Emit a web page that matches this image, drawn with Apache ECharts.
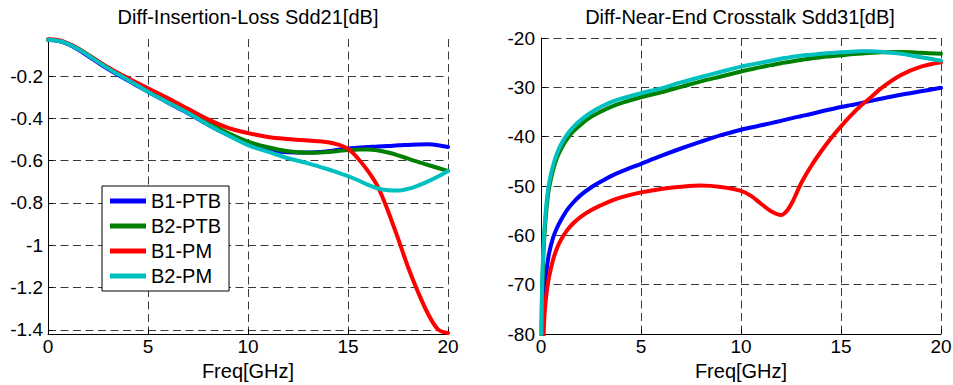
<!DOCTYPE html>
<html>
<head>
<meta charset="utf-8">
<script src="https://cdn.jsdelivr.net/npm/echarts@6/dist/echarts.min.js"></script>
<style>
html,body{margin:0;padding:0;background:#fff;}
#chart{width:953px;height:385px;}
</style>
</head>
<body>
<div id="chart"></div>
<script>
// ---------- data ----------
const seriesNames = ['B1-PTB', 'B2-PTB', 'B1-PM', 'B2-PM'];
const seriesColors = ['#0000ff', '#008000', '#ff0000', '#00bfbf'];

const titleIL = 'Diff-Insertion-Loss Sdd21[dB]';
const titleNEXT = 'Diff-Near-End Crosstalk Sdd31[dB]';
const xAxisName = 'Freq[GHz]';

const freqTicks = [0, 5, 10, 15, 20];
const ilTicks = [-1.4, -1.2, -1, -0.8, -0.6, -0.4, -0.2];
const nextTicks = [-80, -70, -60, -50, -40, -30, -20];

// Insertion loss Sdd21 [dB]
const freqIL = [0, 0.5, 1, 1.5, 2, 2.5, 3, 3.5, 4, 4.5, 5, 6, 7, 8, 9, 10, 11, 12, 13, 14, 14.5, 15, 15.5, 16, 16.5, 17, 17.5, 18, 18.5, 19, 19.5, 20];
const il_B1PTB = [-0.028, -0.034, -0.05, -0.075, -0.106, -0.137, -0.167, -0.195, -0.221, -0.248, -0.275, -0.326, -0.376, -0.43, -0.479, -0.522, -0.548, -0.561, -0.562, -0.556, -0.549, -0.543, -0.539, -0.536, -0.533, -0.531, -0.528, -0.526, -0.524, -0.523, -0.527, -0.536];
const il_B2PTB = [-0.028, -0.032, -0.047, -0.07, -0.099, -0.13, -0.16, -0.187, -0.213, -0.241, -0.27, -0.32, -0.37, -0.42, -0.47, -0.51, -0.537, -0.556, -0.563, -0.559, -0.555, -0.55, -0.548, -0.547, -0.552, -0.562, -0.575, -0.591, -0.606, -0.621, -0.635, -0.649];
const il_B1PM = [-0.026, -0.03, -0.046, -0.07, -0.1, -0.13, -0.16, -0.186, -0.21, -0.234, -0.258, -0.305, -0.355, -0.405, -0.445, -0.47, -0.488, -0.498, -0.505, -0.513, -0.524, -0.545, -0.59, -0.65, -0.725, -0.838, -0.968, -1.103, -1.221, -1.324, -1.398, -1.415];
const il_B2PM = [-0.028, -0.033, -0.048, -0.072, -0.102, -0.133, -0.164, -0.192, -0.219, -0.246, -0.274, -0.325, -0.375, -0.43, -0.48, -0.527, -0.558, -0.589, -0.613, -0.641, -0.657, -0.673, -0.693, -0.715, -0.732, -0.74, -0.742, -0.734, -0.718, -0.698, -0.675, -0.649];

// Near-end crosstalk Sdd31 [dB]
const freqNEXT = [0.02, 0.05, 0.1, 0.15, 0.2, 0.3, 0.4, 0.6, 0.8, 1, 1.3, 1.6, 2, 2.5, 3, 3.5, 4, 5, 6, 7, 8, 9, 10, 10.5, 11, 11.5, 12, 12.3, 12.6, 13, 13.5, 14, 14.5, 15, 15.5, 16, 16.5, 17, 18, 19, 20];
const next_B1PTB = [-92, -82, -75, -72.2, -69.8, -66.4, -63.7, -60.5, -58.5, -56.9, -54.9, -53.4, -51.8, -50.3, -49.1, -48.0, -47.1, -45.5, -43.9, -42.4, -41.0, -39.7, -38.6, -38.15, -37.7, -37.25, -36.8, -36.5, -36.2, -35.85, -35.4, -34.9, -34.45, -34.0, -33.6, -33.2, -32.75, -32.3, -31.5, -30.8, -30.1];
const next_B2PTB = [-81, -73, -66, -61.5, -58.3, -53.7, -50.5, -46.8, -44.3, -42.5, -40.5, -39.0, -37.5, -36.0, -34.9, -33.95, -33.2, -32.0, -31.0, -29.9, -28.8, -27.8, -26.8, -26.35, -25.9, -25.5, -25.1, -24.9, -24.7, -24.45, -24.15, -23.9, -23.7, -23.5, -23.3, -23.15, -23.0, -22.9, -22.85, -23.0, -23.2];
const next_B1PM = [-105, -95, -84, -78.2, -74.8, -71.0, -68.5, -65.0, -62.6, -60.9, -59.0, -57.6, -56.2, -54.9, -53.9, -53.0, -52.3, -51.3, -50.6, -50.15, -49.9, -50.2, -51.0, -52.0, -53.6, -55.1, -55.9, -55.0, -53.0, -49.5, -46.0, -43.0, -40.3, -37.9, -35.7, -33.7, -32.0, -30.2, -27.5, -25.8, -24.9];
const next_B2PM = [-80, -71, -64.5, -60, -57, -52.5, -49.5, -45.9, -43.4, -41.6, -39.6, -38.1, -36.6, -35.1, -33.95, -33.0, -32.3, -31.2, -30.2, -29.0, -27.9, -26.85, -25.8, -25.4, -25.0, -24.6, -24.2, -24.0, -23.8, -23.6, -23.4, -23.2, -23.05, -22.9, -22.8, -22.7, -22.7, -22.8, -23.2, -23.9, -24.6];

// ---------- chart ----------
const FONT = '"Liberation Sans", Arial, Helvetica, sans-serif';
const zip = (xs, ys) => xs.map((x, i) => [x, ys[i]]);
const ilData = [il_B1PTB, il_B2PTB, il_B1PM, il_B2PM];
const nextData = [next_B1PTB, next_B2PTB, next_B1PM, next_B2PM];

const gridLine = { show: true, lineStyle: { color: '#3a3a3a', width: 1, type: [8, 4.5] } };

function xAxisCfg(gridIndex) {
  return {
    gridIndex: gridIndex, type: 'value', min: 0, max: 20, interval: 5,
    name: xAxisName, nameLocation: 'middle', nameGap: 25,
    nameTextStyle: { color: '#000', fontSize: 20, fontFamily: FONT },
    axisLine: { show: true, onZero: false, lineStyle: { color: '#000', width: 1 } },
    axisTick: { show: true, inside: true, length: 5, lineStyle: { color: '#000' } },
    axisLabel: { show: true, color: '#000', fontSize: 19, fontFamily: FONT, margin: 3 },
    splitLine: gridLine
  };
}

function lineSeries(name, k, axisIndex, xs, ys) {
  return {
    name: name, type: 'line', xAxisIndex: axisIndex, yAxisIndex: axisIndex,
    data: zip(xs, ys), showSymbol: false, symbol: 'none',
    smooth: 0.35, clip: true,
    lineStyle: { color: seriesColors[k], width: 4, join: 'round', cap: 'round' },
    itemStyle: { color: seriesColors[k] },
    z: 2 + k
  };
}

const series = [];
seriesNames.forEach((name, k) => series.push(lineSeries(name, k, 0, freqIL, ilData[k])));
seriesNames.forEach((name, k) => series.push(lineSeries(name, k, 1, freqNEXT, nextData[k])));

const chart = echarts.init(document.getElementById('chart'), null, { renderer: 'svg' });
chart.setOption({
  animation: false,
  backgroundColor: '#fff',
  textStyle: { fontFamily: FONT, color: '#000' },
  title: [
    { text: titleIL, left: 243, top: 2, textAlign: 'center',
      textStyle: { fontSize: 20, fontWeight: 'normal', color: '#000', fontFamily: FONT } },
    { text: titleNEXT, left: 735, top: 2, textAlign: 'center',
      textStyle: { fontSize: 20, fontWeight: 'normal', color: '#000', fontFamily: FONT } }
  ],
  legend: {
    data: seriesNames, orient: 'vertical', left: 102, top: 186,
    padding: [5, 8, 5, 8], itemGap: 5, itemWidth: 36, itemHeight: 5, icon: 'rect',
    backgroundColor: '#fff', borderColor: '#000', borderWidth: 1, borderRadius: 0,
    textStyle: { fontSize: 20, color: '#000', fontFamily: FONT },
    selectedMode: false, z: 10
  },
  grid: [
    { left: 48, top: 39, width: 400, height: 295, containLabel: false, outerBoundsMode: 'none' },
    { left: 541, top: 38, width: 400, height: 296, containLabel: false, outerBoundsMode: 'none' }
  ],
  xAxis: [xAxisCfg(0), xAxisCfg(1)],
  yAxis: [
    {
      gridIndex: 0, type: 'value', min: -1.42, max: -0.025,
      axisLine: { show: true, onZero: false, lineStyle: { color: '#000', width: 1 } },
      axisTick: { show: true, inside: true, length: 5, lineStyle: { color: '#000' }, customValues: ilTicks },
      axisLabel: { show: true, color: '#000', fontSize: 19, fontFamily: FONT, margin: 5, customValues: ilTicks },
      splitLine: gridLine
    },
    {
      gridIndex: 1, type: 'value', min: -80, max: -20, interval: 10,
      axisLine: { show: true, onZero: false, lineStyle: { color: '#000', width: 1 } },
      axisTick: { show: true, inside: true, length: 5, lineStyle: { color: '#000' } },
      axisLabel: { show: true, color: '#000', fontSize: 19, fontFamily: FONT, margin: 6 },
      splitLine: gridLine
    }
  ],
  series: series
});
</script>
</body>
</html>
